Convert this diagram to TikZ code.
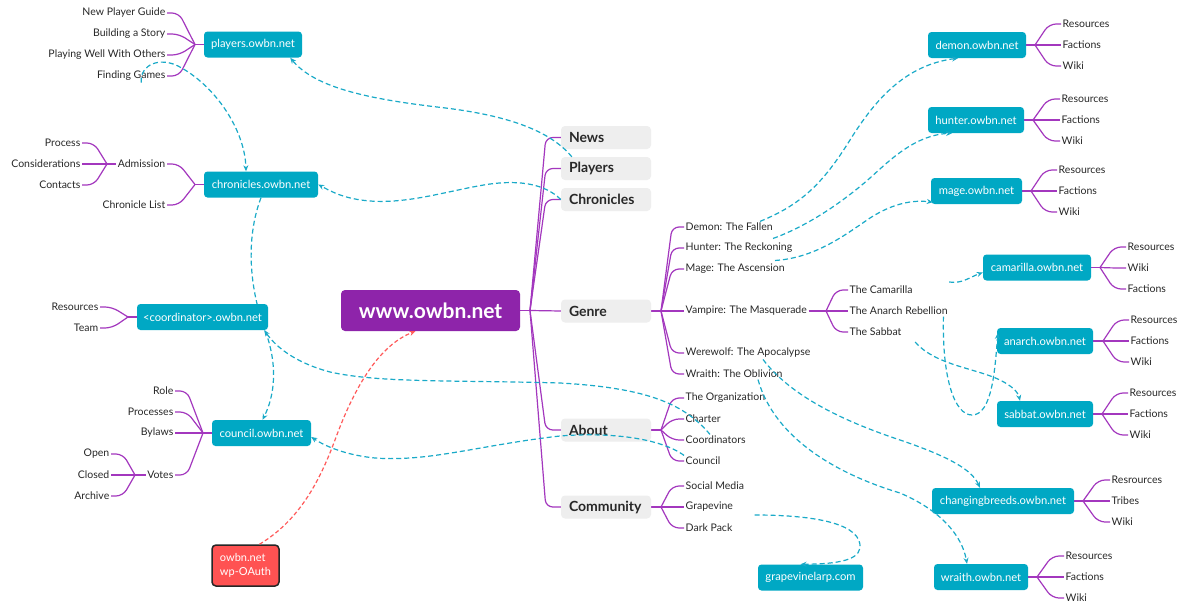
\documentclass[tikz,border=0pt]{standalone}
\usepackage{fontspec}
\setmainfont{Lato}
\usetikzlibrary{arrows.meta,calc}
\pgfdeclarelayer{back}
\pgfdeclarelayer{bg}
\pgfsetlayers{back,bg,main}
\definecolor{tealc}{RGB}{0,168,196}
\definecolor{dashc}{RGB}{26,170,200}
\definecolor{purp}{RGB}{142,36,170}
\definecolor{brc}{RGB}{163,55,190}
\definecolor{grayb}{RGB}{238,238,238}
\definecolor{redb}{RGB}{255,82,82}
\definecolor{redl}{RGB}{255,90,90}
\definecolor{txt}{RGB}{40,40,40}
\newcommand\rfork[3]{\draw[br] (#2.east) -- (#1); \foreach \c in {#3} {\draw[br] (#1) -- ([xshift=-12pt]\c.west) -- (\c.west);}}
\newcommand\lfork[3]{\draw[br] (#2.west) -- (#1); \foreach \c in {#3} {\draw[br] (#1) -- ([xshift=12pt]\c.east) -- (\c.east);}}
\begin{document}
\begin{tikzpicture}[x=1pt,y=-1pt,
 tbox/.style={fill=tealc, rounded corners=3.5pt, text=white, font=\fontsize{11.2}{13}\selectfont, minimum height=26pt, inner sep=0pt},
 gbox/.style={fill=grayb, rounded corners=4pt, text=txt, font=\fontsize{14}{16}\selectfont\bfseries, minimum height=23pt, minimum width=90pt, text width=74pt, align=left, inner sep=0pt},
 wbox/.style={fill=purp, rounded corners=4pt, text=white, font=\fontsize{21}{24}\selectfont\bfseries, minimum width=179pt, minimum height=41pt, inner sep=0pt},
 obox/.style={fill=redb, draw=black!85, line width=1.5pt, rounded corners=4pt, text=white, align=left, minimum width=67pt, minimum height=41pt, font=\fontsize{11}{13.5}\selectfont, inner sep=0pt},
 lbl/.style={text=txt, font=\fontsize{10.5}{12}\selectfont, inner sep=1.5pt},
 ll/.style={lbl, anchor=east},
 rl/.style={lbl, anchor=west},
 br/.style={draw=brc, line width=1.2pt, rounded corners=7pt},
 dl/.style={draw=dashc, line width=1.2pt, dash pattern=on 5pt off 3pt, -{Stealth[length=6pt,width=5pt]}},
 redline/.style={draw=redl, line width=1.2pt, dash pattern=on 4pt off 2.5pt, -{Stealth[length=6pt,width=5pt]}},
]
\begin{pgfonlayer}{back}
\fill[white] (0,0) rectangle (1193,605);
\end{pgfonlayer}
\useasboundingbox (0,0) rectangle (1193,605);

% central
\node[wbox] (www) at (430.5,310.5) {www.owbn.net};
% gray topics
\node[gbox] (gNews) at (606,137.5) {News};
\node[gbox] (gPlayers) at (606,168.5) {Players};
\node[gbox] (gChron) at (606,199.5) {Chronicles};
\node[gbox] (gGenre) at (606,311) {Genre};
\node[gbox] (gAbout) at (606,430) {About};
\node[gbox] (gComm) at (606,507) {Community};

% teal boxes
\node[tbox, minimum width=98pt] (tPlayers) at (253,44.5) {players.owbn.net};
\node[tbox, minimum width=114pt] (tChron) at (261,184.5) {chronicles.owbn.net};
\node[tbox, minimum width=131pt] (tCoord) at (202.5,317) {<coordinator>.owbn.net};
\node[tbox, minimum width=99pt] (tCouncil) at (261.5,433) {council.owbn.net};
\node[tbox, minimum width=98pt] (tDemon) at (977,45) {demon.owbn.net};
\node[tbox, minimum width=96pt] (tHunter) at (976,120) {hunter.owbn.net};
\node[tbox, minimum width=91pt] (tMage) at (976.5,191) {mage.owbn.net};
\node[tbox, minimum width=108pt] (tCam) at (1037,267.5) {camarilla.owbn.net};
\node[tbox, minimum width=96pt] (tAnarch) at (1045,341) {anarch.owbn.net};
\node[tbox, minimum width=96pt] (tSabbat) at (1045,414) {sabbat.owbn.net};
\node[tbox, minimum width=142pt] (tCB) at (1003,501) {changingbreeds.owbn.net};
\node[tbox, minimum width=94pt] (tWraith) at (981,577) {wraith.owbn.net};
\node[tbox, minimum width=105pt] (tGrape) at (810.5,577.5) {grapevinelarp.com};
\node[obox] (oauth) at (245.5,565.5) {owbn.net\\wp-OAuth};

% left labels
\node[ll] (npg) at (167,13) {New Player Guide};
\node[ll] (bas) at (167,34) {Building a Story};
\node[ll] (pwo) at (167,55) {Playing Well With Others};
\node[ll] (fg) at (167,76) {Finding Games};
\node[ll] (adm) at (167,164) {Admission};
\node[ll] (cl) at (167,205) {Chronicle List};
\node[ll] (proc) at (82,143) {Process};
\node[ll] (cons) at (82,164) {Considerations};
\node[ll] (cont) at (82,185) {Contacts};
\node[ll] (cres) at (100,307) {Resources};
\node[ll] (team) at (100,328) {Team};
\node[ll] (role) at (175,391) {Role};
\node[ll] (procs) at (175,412) {Processes};
\node[ll] (bylaws) at (175,433) {Bylaws};
\node[ll] (votes) at (175,475) {Votes};
\node[ll] (open) at (111,454) {Open};
\node[ll] (closed) at (111,475) {Closed};
\node[ll] (archive) at (111,496) {Archive};

% genre labels
\node[rl] (dm) at (684,227) {Demon: The Fallen};
\node[rl] (hu) at (684,248) {Hunter: The Reckoning};
\node[rl] (ma) at (684,269) {Mage: The Ascension};
\node[rl] (vm) at (684,311) {Vampire: The Masquerade};
\node[rl] (we) at (684,353) {Werewolf: The Apocalypse};
\node[rl] (wr) at (684,374) {Wraith: The Oblivion};
\node[rl] (cm) at (848,290) {The Camarilla};
\node[rl] (anr) at (848,311) {The Anarch Rebellion};
\node[rl] (sab) at (848,332) {The Sabbat};
% about
\node[rl] (org) at (684,398) {The Organization};
\node[rl] (ch) at (684,419) {Charter};
\node[rl] (co) at (684,440) {Coordinators};
\node[rl] (cn) at (684,461) {Council};
% community
\node[rl] (sm) at (684,486) {Social Media};
\node[rl] (gv) at (684,507) {Grapevine};
\node[rl] (dp) at (684,528) {Dark Pack};

% right teal children
\node[rl] (dR) at (1061,24) {Resources};
\node[rl] (dF) at (1061,45) {Factions};
\node[rl] (dW) at (1061,66) {Wiki};
\node[rl] (hR) at (1060,99) {Resources};
\node[rl] (hF) at (1060,120) {Factions};
\node[rl] (hW) at (1060,141) {Wiki};
\node[rl] (mR) at (1057,170) {Resources};
\node[rl] (mF) at (1057,191) {Factions};
\node[rl] (mW) at (1057,212) {Wiki};
\node[rl] (cR) at (1126,247) {Resources};
\node[rl] (cW) at (1126,268) {Wiki};
\node[rl] (cF) at (1126,289) {Factions};
\node[rl] (aR) at (1129,320) {Resources};
\node[rl] (aF) at (1129,341) {Factions};
\node[rl] (aW) at (1129,362) {Wiki};
\node[rl] (sR) at (1128,393) {Resources};
\node[rl] (sF) at (1128,414) {Factions};
\node[rl] (sW) at (1128,435) {Wiki};
\node[rl] (bR) at (1110,480) {Resrources};
\node[rl] (bT) at (1110,501) {Tribes};
\node[rl] (bW) at (1110,522) {Wiki};
\node[rl] (wR) at (1064,556) {Resources};
\node[rl] (wF) at (1064,577) {Factions};
\node[rl] (wW) at (1064,598) {Wiki};

\begin{pgfonlayer}{bg}
% main branches
\coordinate (mf) at (530,310.5);
\draw[br] (www.east) -- (mf);
\foreach \g in {gNews,gPlayers,gChron,gAbout,gComm} {\draw[br] (mf) -- ([xshift=-15pt]\g.west) -- (\g.west);}
\draw[br] (mf) -- (gGenre.west);
% genre
\coordinate (gf) at (661,311);
\rfork{gf}{gGenre}{dm,hu,ma,vm,we,wr}
\coordinate (vf) at (826,311);
\rfork{vf}{vm}{cm,anr,sab}
\coordinate (af) at (661,430);
\rfork{af}{gAbout}{org,ch,co,cn}
\coordinate (cf) at (661,507);
\rfork{cf}{gComm}{sm,gv,dp}
% right teal
\coordinate (fD) at (1035,45);   \rfork{fD}{tDemon}{dR,dF,dW}
\coordinate (fH) at (1033,120);  \rfork{fH}{tHunter}{hR,hF,hW}
\coordinate (fM) at (1031,191);  \rfork{fM}{tMage}{mR,mF,mW}
\coordinate (fC) at (1100,267.5);\rfork{fC}{tCam}{cR,cW,cF}
\coordinate (fA) at (1103,341);  \rfork{fA}{tAnarch}{aR,aF,aW}
\coordinate (fS) at (1102,414);  \rfork{fS}{tSabbat}{sR,sF,sW}
\coordinate (fB) at (1083,501);  \rfork{fB}{tCB}{bR,bT,bW}
\coordinate (fW) at (1037,577);  \rfork{fW}{tWraith}{wR,wF,wW}
% left teal
\coordinate (fP) at (195,44.5);  \lfork{fP}{tPlayers}{npg,bas,pwo,fg}
\coordinate (fCh) at (195,184.5);\lfork{fCh}{tChron}{adm,cl}
\coordinate (fAd) at (107,164);  \lfork{fAd}{adm}{proc,cons,cont}
\coordinate (fCo) at (128,317);  \lfork{fCo}{tCoord}{cres,team}
\coordinate (fCn) at (203,433);  \lfork{fCn}{tCouncil}{role,procs,bylaws,votes}
\coordinate (fV) at (135,475);   \lfork{fV}{votes}{open,closed,archive}
% chronicles -> council (behind coordinator box)
\draw[dl] (tChron.south) .. controls (245,240) and (250,290) .. (265,330) .. controls (278,365) and (275,395) .. ([xshift=1pt]tCouncil.north);
\end{pgfonlayer}

% relationship connectors
\draw[dl] ([xshift=11pt]gPlayers.north west) .. controls (548,128) and (500,114) .. (437,107) .. controls (370,99) and (315,88) .. ([xshift=-12pt]tPlayers.south east);
\draw[dl] (gChron.west) .. controls (545,184) and (520,180) .. (490,184) .. controls (450,190) and (410,204) .. (370,201) .. controls (345,199) and (332,192) .. (tChron.east);
\draw[dl] ([xshift=10pt]fg.south) .. controls (140,64) and (160,57) .. (178,66) .. controls (215,85) and (245,130) .. ([xshift=-15pt]tChron.north);
\draw[dl] ([xshift=26pt]co.north west) .. controls (685,405) and (650,388) .. (560,383) .. controls (450,380) and (380,383) .. (330,372) .. controls (300,364) and (278,350) .. ([xshift=-4pt]tCoord.south east);
\draw[dl] (cn.north west) .. controls (660,438) and (610,432) .. (560,436) .. controls (480,445) and (430,462) .. (375,458) .. controls (345,455) and (325,446) .. ([yshift=-4pt]tCouncil.east);
\draw[redline] ([xshift=14pt]oauth.north) .. controls (300,520) and (320,480) .. (335,440) .. controls (355,385) and (380,345) .. ([xshift=-15pt]www.south);
\draw[dl] ([xshift=76pt]dm.north west) .. controls (800,205) and (822,185) .. (850,140) .. controls (875,100) and (905,65) .. ([xshift=-19pt]tDemon.south);
\draw[dl] ([xshift=89pt,yshift=3pt]hu.north west) .. controls (810,225) and (845,200) .. (870,178) .. controls (890,160) and (915,135) .. ([xshift=-24pt]tHunter.south);
\draw[dl] ([xshift=91pt,yshift=2pt]ma.north west) .. controls (815,258) and (845,235) .. (870,218) .. controls (895,202) and (915,200) .. ([xshift=2pt,yshift=2pt]tMage.south west);
\draw[dl] ([xshift=35pt,yshift=8pt]cm.east) .. controls (962,284) and (970,277) .. ([yshift=-5pt]tCam.west);
\draw[dl] ([xshift=-6pt]anr.south east) .. controls (942,380) and (955,415) .. (972,415) .. controls (992,415) and (995,370) .. ([xshift=1pt,yshift=8pt]tAnarch.west);
\draw[dl] ([xshift=12pt,yshift=-10pt]sab.east) .. controls (935,365) and (975,368) .. (1000,380) .. controls (1012,386) and (1018,392) .. ([xshift=-25pt]tSabbat.north);
\draw[dl] ([xshift=79pt]we.south west) .. controls (790,395) and (840,420) .. (900,440) .. controls (950,457) and (972,470) .. ([xshift=-23pt]tCB.north);
\draw[dl] ([xshift=74pt]wr.south west) .. controls (775,440) and (840,475) .. (900,493) .. controls (940,510) and (962,535) .. ([xshift=-14pt]tWraith.north);
\draw[dl] ([xshift=20pt,yshift=-8pt]gv.east) .. controls (820,515) and (862,525) .. (860,548) .. controls (858,562) and (830,564) .. ([xshift=-10pt]tGrape.north);
\end{tikzpicture}
\end{document}
